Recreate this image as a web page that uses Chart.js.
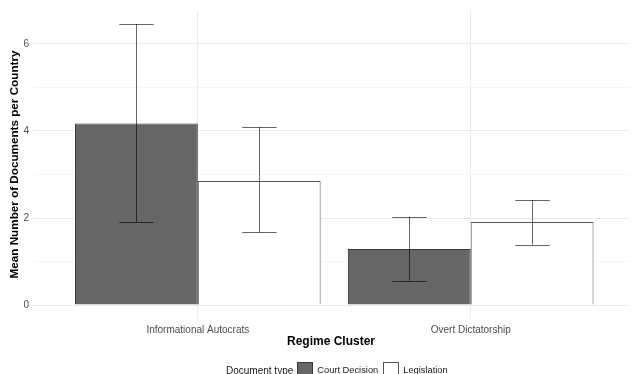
<!DOCTYPE html>
<html>
<head>
<meta charset="utf-8">
<script src="https://cdn.jsdelivr.net/npm/chart.js@4"></script>
<style>
  html, body { margin: 0; padding: 0; background: #fff; overflow: hidden; }
  #wrap { position: relative; width: 634px; height: 374px; }
  #legend { position: absolute; left: 226px; top: 362px; display: flex; align-items: center;
            font-family: "Liberation Sans", Arial, sans-serif; color: #1a1a1a; white-space: nowrap; }
  #legend .title { font-size: 10px; margin-right: 4px; }
  #legend .box { width: 16px; height: 16px; box-sizing: border-box; margin-right: 4px; }
  #legend .lab { font-size: 9.3px; margin-right: 5px; }
</style>
</head>
<body>
<div id="wrap">
  <canvas id="c" width="634" height="374"></canvas>
  <div id="legend"></div>
</div>
<script>
// Regime clusters on the x axis
const clusters = ["Informational Autocrats", "Overt Dictatorship"];
const documentTypes = ["Court Decision", "Legislation"];

// Mean documents per country, by document type
const courtMeans = [4.17, 1.29];
const legislationMeans = [2.85, 1.91];

// Error bar bounds
const courtLower = [1.91, 0.56];
const courtUpper = [6.45, 2.03];
const legislationLower = [1.67, 1.39];
const legislationUpper = [4.08, 2.41];

const yTicks = [0, 1, 2, 3, 4, 5, 6];

const FONT = '"Liberation Sans", Arial, sans-serif';

function points(values) {
  return values.map((v, i) => ({ x: i + 1, y: v }));
}

const errorBars = {
  id: 'errorBars',
  afterDatasetsDraw(chart) {
    const ctx = chart.ctx;
    const yScale = chart.scales.y;
    chart.data.datasets.forEach((ds, di) => {
      const meta = chart.getDatasetMeta(di);
      meta.data.forEach((bar, i) => {
        const lo = yScale.getPixelForValue(ds.lower[i]);
        const hi = yScale.getPixelForValue(ds.upper[i]);
        const half = bar.width * 0.14;
        ctx.save();
        ctx.strokeStyle = 'rgba(0,0,0,0.6)';
        ctx.lineWidth = 1;
        ctx.beginPath();
        const x = Math.round(bar.x) + 0.5;
        ctx.moveTo(x, hi); ctx.lineTo(x, lo);
        ctx.moveTo(x - half, Math.round(hi) + 0.5); ctx.lineTo(x + half, Math.round(hi) + 0.5);
        ctx.moveTo(x - half, Math.round(lo) + 0.5); ctx.lineTo(x + half, Math.round(lo) + 0.5);
        ctx.stroke();
        ctx.restore();
      });
    });
  }
};

const chart = new Chart(document.getElementById('c'), {
  type: 'bar',
  data: {
    datasets: [
      {
        label: documentTypes[0],
        data: points(courtMeans),
        lower: courtLower, upper: courtUpper,
        backgroundColor: '#666666',
        borderColor: '#3a3a3a',
        borderWidth: 1
      },
      {
        label: documentTypes[1],
        data: points(legislationMeans),
        lower: legislationLower, upper: legislationUpper,
        backgroundColor: '#ffffff',
        borderColor: '#555555',
        borderWidth: 1
      }
    ]
  },
  options: {
    responsive: false,
    animation: false,
    categoryPercentage: 0.9,
    barPercentage: 1.0,
    layout: { padding: { left: 0, right: 5, top: 8, bottom: 20 } },
    plugins: { legend: { display: false }, tooltip: { enabled: false } },
    scales: {
      x: {
        type: 'linear',
        offset: false,
        min: 0.396, max: 2.58,
        afterBuildTicks(axis) { axis.ticks = clusters.map((_, i) => ({ value: i + 1 })); },
        afterFit(axis) { axis.height = 35; },
        ticks: {
          callback: (v) => clusters[v - 1] || '',
          color: '#4d4d4d',
          font: { family: FONT, size: 10 },
          padding: 5,
          maxRotation: 0, autoSkip: false
        },
        grid: { color: '#ebebeb', lineWidth: 1, drawTicks: false, offset: false },
        border: { display: false },
        title: {
          display: true, text: 'Regime Cluster', color: '#000',
          font: { family: FONT, size: 12, weight: 'bold' },
          padding: { top: 0, bottom: 5 }
        }
      },
      y: {
        min: -0.319, max: 6.776,
        afterBuildTicks(axis) { axis.ticks = yTicks.map(v => ({ value: v })); },
        afterFit(axis) { axis.width = 33; },
        ticks: {
          callback: (v) => (v % 2 === 0 ? String(v) : ''),
          color: '#4d4d4d',
          font: { family: FONT, size: 10 },
          padding: 4
        },
        grid: {
          color: (c) => (c.tick && c.tick.value % 2 === 0 ? '#ebebeb' : '#f6f6f6'),
          lineWidth: 1, drawTicks: false
        },
        border: { display: false },
        title: {
          display: true, text: 'Mean Number of Documents per Country', color: '#000',
          font: { family: FONT, size: 11.7, weight: 'bold' },
          padding: { top: 8, bottom: 0 }
        }
      }
    }
  },
  plugins: [errorBars]
});

// Legend row
const legend = document.getElementById('legend');
const title = document.createElement('span');
title.className = 'title';
title.textContent = 'Document type';
legend.appendChild(title);
chart.data.datasets.forEach((ds) => {
  const box = document.createElement('span');
  box.className = 'box';
  box.style.background = ds.backgroundColor;
  box.style.border = '1px solid ' + ds.borderColor;
  legend.appendChild(box);
  const lab = document.createElement('span');
  lab.className = 'lab';
  lab.textContent = ds.label;
  legend.appendChild(lab);
});
</script>
</body>
</html>
